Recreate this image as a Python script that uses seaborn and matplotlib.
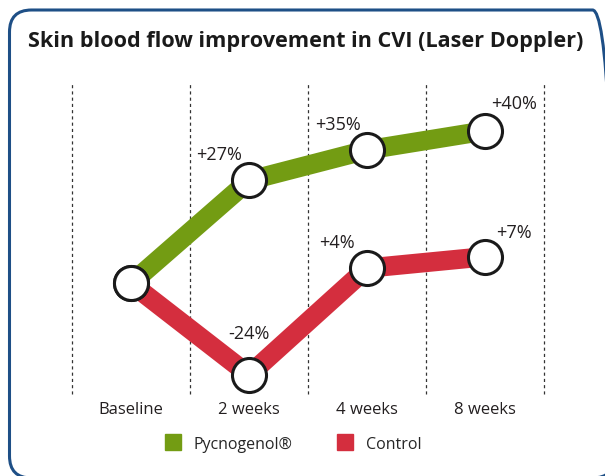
import seaborn as sns
import matplotlib.pyplot as plt
import pandas as pd
from matplotlib.patches import FancyBboxPatch
from matplotlib.lines import Line2D

# data
weeks = ["Baseline", "2 weeks", "4 weeks", "8 weeks"]
pycnogenol = [0, 27, 35, 40]
control = [0, -24, 4, 7]
pyc_labels = ["", "+27%", "+35%", "+40%"]
ctl_labels = ["", "-24%", "+4%", "+7%"]

green = "#739c13"
red = "#d42e3e"

sns.set_style("white")
plt.rcParams['font.family'] = ['Open Sans', 'DejaVu Sans']

df = pd.DataFrame({
    "week": list(range(4)) * 2,
    "value": pycnogenol + control,
    "group": ["Pycnogenol®"] * 4 + ["Control"] * 4,
})

fig = plt.figure(figsize=(6.05, 4.77), dpi=100)
ax = fig.add_axes([72 / 605, 1 - 395 / 477, 472 / 605, 310 / 477])

# rounded frame round the whole chart (runs off the right and bottom edges)
frame = FancyBboxPatch((0.095, -0.02), 6.05, 4.68,
                       boxstyle="round,pad=0,rounding_size=0.22",
                       transform=fig.dpi_scale_trans, fill=False,
                       edgecolor="#1e4f86", linewidth=2.2, clip_on=False)
fig.patches.append(frame)

sns.lineplot(data=df, x="week", y="value", hue="group",
             palette={"Pycnogenol®": green, "Control": red},
             linewidth=14, legend=False, ax=ax, zorder=2)
for vals in (pycnogenol, control):
    ax.plot(range(4), vals, "o", markersize=24.5, markerfacecolor="white",
            markeredgecolor="#1a1a1a", markeredgewidth=2.2, zorder=3)

# value labels
offsets = [None, (-30, 26), (-29, 26), (29, 28)]
for i in range(1, 4):
    dx, dy = offsets[i]
    ax.annotate(pyc_labels[i], (i, pycnogenol[i]), xytext=(dx * 0.72, dy * 0.72),
                textcoords="offset points", ha="center", va="center",
                fontsize=13, color="#231f20")
ctl_off = [None, (0, 42), (-30, 26), (29, 25)]
for i in range(1, 4):
    dx, dy = ctl_off[i]
    ax.annotate(ctl_labels[i], (i, control[i]), xytext=(dx * 0.72, dy * 0.72),
                textcoords="offset points", ha="center", va="center",
                fontsize=13, color="#231f20")

for x in [-0.5, 0.5, 1.5, 2.5, 3.5]:
    ax.axvline(x, color="#333333", linestyle=(0, (2.5, 2.5)), linewidth=0.9,
               zorder=1, clip_on=False)

ax.set_xlim(-0.5, 3.5)
ax.set_ylim(-29.0, 52.3)
ax.set_xticks(range(4))
ax.set_xticklabels(weeks, fontsize=12, color="#231f20")
ax.tick_params(axis="x", length=0, pad=5)
ax.set_yticks([])
ax.set_xlabel("")
ax.set_ylabel("")
sns.despine(ax=ax, left=True, bottom=True)

fig.text(28 / 605, 1 - 42 / 477, "Skin blood flow improvement in CVI (Laser Doppler)",
         fontsize=15.6, fontweight="bold", color="#1a1a1a", va="center", ha="left")

handles = [Line2D([], [], marker="s", linestyle="", markersize=12,
                  markerfacecolor=c, markeredgecolor=c) for c in (green, red)]
fig.legend(handles, ["Pycnogenol®", "Control"], loc="center",
           bbox_to_anchor=(0.485, 1 - 445 / 477), ncol=2, frameon=False,
           fontsize=11.5, handletextpad=0.8, columnspacing=2.8, handlelength=1.0)

fig.savefig("out.png", dpi=100)
